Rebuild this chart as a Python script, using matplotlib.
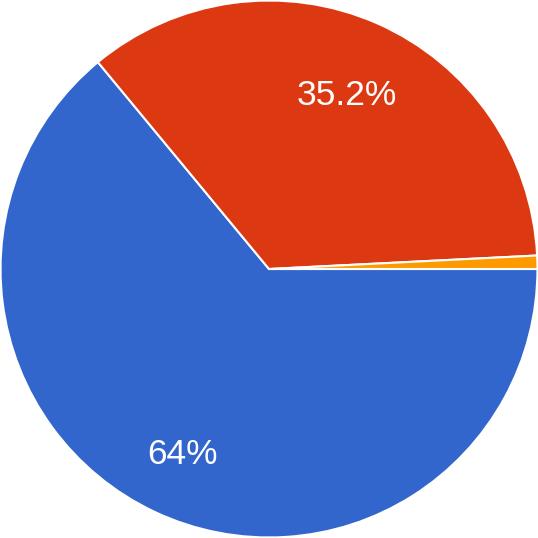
import matplotlib
matplotlib.use("Agg")
import matplotlib.pyplot as plt
from matplotlib.transforms import offset_copy

labels = ["A", "B", "C"]
values = [64.0, 35.2, 0.8]
colors = ["#3366CC", "#DC3912", "#FF9900"]


def fmt(pct):
    if pct < 1:
        return ""
    s = f"{pct:.1f}"
    if s.endswith(".0"):
        s = s[:-2]
    return s + "%"


fig = plt.figure(figsize=(5.38, 5.38), dpi=100)
ax = fig.add_axes([0, 0, 1, 1])
wedges, texts, autotexts = ax.pie(
    values,
    colors=colors,
    startangle=0,
    counterclock=False,
    autopct=fmt,
    pctdistance=0.735,
    radius=1.0,
    wedgeprops=dict(edgecolor="white", linewidth=1.5),
    textprops=dict(color="white", fontsize=25.5, family=["Liberation Sans", "DejaVu Sans"]),
)
for t in autotexts:
    t.set_transform(offset_copy(t.get_transform(), fig=fig, x=-2, y=-7, units="dots"))
ax.set_xlim(-1.002, 1.002)
ax.set_ylim(-1.002, 1.002)
ax.set_aspect("equal")
ax.axis("off")
fig.savefig("out.png", dpi=100, facecolor="white")
